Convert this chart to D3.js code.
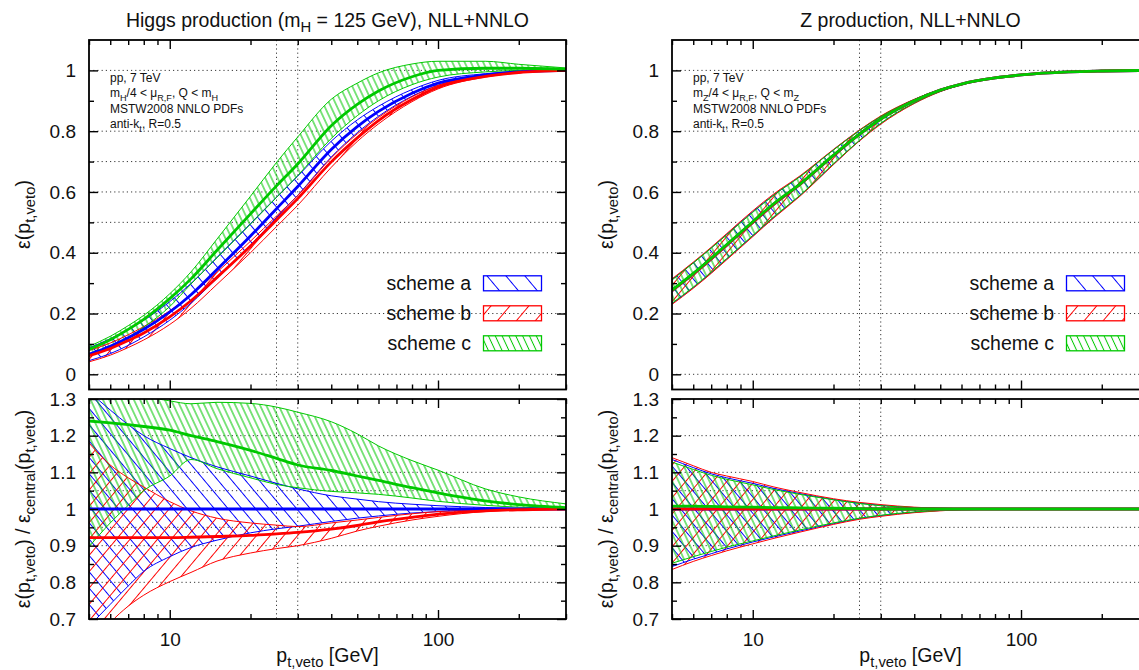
<!DOCTYPE html>
<html>
<head>
<meta charset="utf-8">
<script src="https://cdn.jsdelivr.net/npm/d3@7"></script>
<style>
  body { margin: 0; background: #fff; }
  text { font-family: "Liberation Sans", Arial, Helvetica, sans-serif; fill: #111; }
</style>
</head>
<body>
<svg id="chart" width="1139" height="670"></svg>
<script>
// ---- jet-veto transverse momentum grid [GeV] ----
const ptVeto = [5, 6, 7, 8, 10, 12, 15, 20, 25, 30, 40, 50, 60, 80, 100, 150, 200, 300];

// ---- Higgs production: efficiency ----
const hEffA   = [.066,.092,.120,.148,.205,.262,.345,.455,.545,.618,.740,.815,.865,.925,.958,.985,.995,1.0];
const hEffALo = [.045,.068,.095,.123,.178,.234,.316,.425,.516,.589,.715,.795,.849,.915,.951,.983,.994,1.0];
const hEffAHi = [.087,.117,.148,.178,.239,.299,.385,.496,.583,.652,.767,.837,.882,.937,.967,.989,.997,1.0];
const hEffB   = [.061,.085,.111,.136,.189,.242,.319,.422,.508,.578,.699,.778,.835,.904,.945,.980,.993,1.0];
const hEffBLo = [.041,.063,.088,.113,.164,.217,.296,.400,.486,.556,.681,.766,.824,.897,.939,.978,.992,1.0];
const hEffBHi = [.078,.103,.130,.157,.209,.261,.336,.438,.521,.588,.712,.791,.845,.913,.951,.983,.995,1.0];
const hEffC   = [.082,.114,.148,.181,.249,.314,.408,.528,.620,.692,.818,.888,.932,.979,1.0,1.007,1.007,1.004];
const hEffCLo = [.059,.089,.121,.155,.223,.297,.383,.494,.582,.654,.776,.851,.900,.953,.978,.995,1.0,1.002];
const hEffCHi = [.092,.125,.160,.194,.265,.337,.445,.586,.697,.781,.905,.958,.992,1.021,1.030,1.030,1.020,1.008];

// ---- Higgs production: ratio to central scheme-a efficiency ----
const hRatA   = [1,1,1,1,1,1,1,1,1,1,1,1,1,1,1,1,1,1];
const hRatALo = [.68,.74,.79,.83,.87,.895,.915,.935,.946,.953,.966,.975,.981,.989,.993,.998,.999,1.0];
const hRatAHi = [1.32,1.27,1.23,1.20,1.165,1.14,1.115,1.09,1.07,1.055,1.036,1.027,1.02,1.013,1.009,1.004,1.002,1.0];
const hRatB   = [.922,.922,.922,.922,.922,.923,.925,.928,.932,.936,.945,.955,.965,.977,.986,.995,.998,1.0];
const hRatBLo = [.62,.69,.735,.765,.802,.827,.858,.88,.892,.90,.92,.94,.953,.97,.98,.993,.997,1.0];
const hRatBHi = [1.18,1.12,1.085,1.06,1.02,.995,.975,.962,.956,.952,.962,.97,.977,.987,.993,.998,1.0,1.0];
const hRatC   = [1.24,1.235,1.23,1.225,1.215,1.20,1.184,1.16,1.138,1.12,1.105,1.09,1.078,1.058,1.044,1.022,1.012,1.004];
const hRatCLo = [.897,.962,1.01,1.05,1.09,1.135,1.11,1.085,1.067,1.058,1.048,1.044,1.04,1.03,1.021,1.01,1.005,1.002];
const hRatCHi = [1.40,1.36,1.33,1.31,1.295,1.287,1.291,1.288,1.278,1.264,1.238,1.205,1.172,1.132,1.106,1.055,1.033,1.014];

// ---- Z production: efficiency ----
const zEffA   = [.275,.33,.38,.425,.50,.56,.625,.72,.79,.84,.90,.935,.955,.975,.985,.995,.998,1.0];
const zEffALo = [.232,.285,.334,.379,.455,.517,.588,.691,.769,.825,.892,.931,.953,.974,.985,.995,.998,1.0];
const zEffAHi = [.312,.367,.416,.461,.535,.591,.651,.739,.803,.848,.904,.937,.956,.975,.985,.995,.998,1.0];
const zEffB   = [.275,.33,.38,.425,.50,.56,.625,.72,.79,.84,.90,.935,.955,.975,.985,.995,.998,1.0];
const zEffBLo = [.230,.283,.332,.377,.453,.515,.586,.690,.768,.823,.891,.930,.953,.974,.985,.995,.998,1.0];
const zEffBHi = [.314,.369,.418,.463,.538,.594,.653,.740,.804,.850,.905,.937,.956,.975,.985,.995,.998,1.0];
const zEffC   = [.277,.332,.382,.427,.502,.562,.626,.721,.790,.840,.90,.935,.955,.975,.985,.995,.998,1.0];
const zEffCLo = [.234,.287,.336,.381,.457,.519,.589,.693,.770,.826,.893,.931,.953,.974,.985,.995,.998,1.0];
const zEffCHi = [.310,.366,.415,.459,.533,.590,.650,.738,.802,.848,.904,.937,.956,.975,.985,.995,.998,1.0];

// ---- Z production: ratio to central scheme-a efficiency ----
const zRatA   = [1,1,1,1,1,1,1,1,1,1,1,1,1,1,1,1,1,1];
const zRatALo = [.843,.863,.878,.891,.91,.924,.94,.96,.974,.982,.991,.996,.998,.999,1,1,1,1];
const zRatAHi = [1.135,1.113,1.096,1.085,1.07,1.056,1.042,1.026,1.016,1.01,1.004,1.002,1.001,1,1,1,1,1];
const zRatB   = [1,1,1,1,1,1,1,1,1,1,1,1,1,1,1,1,1,1];
const zRatBLo = [.835,.857,.873,.886,.905,.92,.937,.958,.972,.98,.99,.995,.998,.999,1,1,1,1];
const zRatBHi = [1.14,1.118,1.10,1.09,1.075,1.06,1.045,1.028,1.018,1.012,1.005,1.002,1.001,1,1,1,1,1];
const zRatC   = [1.008,1.008,1.007,1.006,1.005,1.004,1.003,1.002,1.001,1,1,1,1,1,1,1,1,1];
const zRatCLo = [.852,.87,.884,.896,.913,.927,.943,.962,.975,.983,.992,.996,.998,.999,1,1,1,1];
const zRatCHi = [1.128,1.108,1.092,1.081,1.066,1.053,1.04,1.025,1.015,1.009,1.004,1.002,1.001,1,1,1,1,1];

// ---- axes ----
const effDomain   = [-0.05, 1.1];
const effTicks    = [0, 0.2, 0.4, 0.6, 0.8, 1];
const effMinor    = [0.1, 0.3, 0.5, 0.7, 0.9];
const effGrid     = [0, 0.2, 0.4, 0.5, 0.6, 0.7, 0.8, 1];
const ratioDomain = [0.7, 1.3];
const ratioTicks  = [0.7, 0.8, 0.9, 1, 1.1, 1.2, 1.3];
const ratioMinor  = [0.75, 0.85, 0.95, 1.05, 1.15, 1.25];
const ratioGrid   = [0.8, 0.9, 0.95, 1, 1.05, 1.1, 1.2];
const ptDomain    = [5, 300];
const ptMajor     = [10, 100];
const ptMinor     = [5, 6, 7, 8, 9, 20, 30, 40, 50, 60, 70, 80, 90, 200, 300];
const vetoMarks   = [25, 30];
const schemeNames = ["scheme a", "scheme b", "scheme c"];
const schemeColors = ["#0000ff", "#ff0000", "#00c800"];

const FONT = '"Liberation Sans", Arial, Helvetica, sans-serif';
const svg = d3.select("#chart");
const defs = svg.append("defs");
svg.append("rect").attr("width", 1139).attr("height", 670).attr("fill", "#fff");

// hatch fills: a = "\\", b = "//", c = steep "\\"
function hatch(id, color, angle, gap) {
  const p = defs.append("pattern").attr("id", id)
    .attr("patternUnits", "userSpaceOnUse")
    .attr("width", gap).attr("height", gap)
    .attr("patternTransform", `rotate(${angle})`);
  p.append("line").attr("x1", gap / 2).attr("x2", gap / 2).attr("y1", -1).attr("y2", gap + 1)
    .attr("stroke", color).attr("stroke-width", 1);
}
hatch("hA", schemeColors[0], -40, 10.5);
hatch("hB", schemeColors[1], 40, 10.5);
hatch("hC", schemeColors[2], -25, 5.6);
hatch("hAL", schemeColors[0], -40, 14.5);
hatch("hBL", schemeColors[1], 40, 14.5);
hatch("hCL", schemeColors[2], -25, 6.2);
const patterns = ["hA", "hB", "hC"];
const legendPatterns = ["hAL", "hBL", "hCL"];

function richText(g, x, y, size, segs, opts = {}) {
  const t = g.append("text").attr("x", x).attr("y", y)
    .attr("font-size", size + "px").style("white-space", "pre");
  if (opts.anchor) t.attr("text-anchor", opts.anchor);
  if (opts.rotate) t.attr("transform", `rotate(${opts.rotate},${x},${y})`);
  let cur = 0;
  segs.forEach(seg => {
    const [s, kind] = typeof seg === "string" ? [seg, ""] : seg;
    const off = kind === "sub" ? 0.28 * size : 0;
    const ts = t.append("tspan").attr("dy", off - cur).text(s);
    if (kind === "sub") ts.attr("font-size", (0.76 * size) + "px");
    cur = off;
  });
  return t;
}

const fmt = d3.format("~g");
let clipCount = 0;

function drawPanel(x, y, opt) {
  const [x0, x1] = x.range();
  const [yb, yt] = y.range();
  const g = svg.append("g");
  const clipId = "clip" + (clipCount++);
  defs.append("clipPath").attr("id", clipId).append("rect")
    .attr("x", x0).attr("y", yt).attr("width", x1 - x0).attr("height", yb - yt);

  // dotted grid and veto reference lines
  const grid = g.append("g").attr("stroke", "#222").attr("stroke-width", 0.9)
    .attr("stroke-dasharray", "1.2,3").attr("fill", "none");
  grid.selectAll("line.gh").data(opt.grid).join("line").attr("class", "gh")
    .attr("x1", x0).attr("x2", x1).attr("y1", d => y(d)).attr("y2", d => y(d));
  grid.selectAll("line.gv").data(vetoMarks).join("line").attr("class", "gv")
    .attr("x1", d => x(d)).attr("x2", d => x(d)).attr("y1", yt).attr("y2", yb);

  const plot = g.append("g").attr("clip-path", `url(#${clipId})`);
  const rows = opt.bands.map(([lo, hi, mid]) =>
    ptVeto.map((p, i) => ({ p, lo: lo[i], hi: hi[i], mid: mid[i] })));
  const area = d3.area().x(d => x(d.p)).y0(d => y(d.lo)).y1(d => y(d.hi)).curve(d3.curveMonotoneX);
  const line = key => d3.line().x(d => x(d.p)).y(d => y(d[key])).curve(d3.curveMonotoneX);

  rows.forEach((r, k) => plot.append("path").attr("d", area(r)).attr("fill", `url(#${patterns[k]})`));
  rows.forEach((r, k) => {
    ["lo", "hi"].forEach(key => plot.append("path").attr("d", line(key)(r))
      .attr("fill", "none").attr("stroke", schemeColors[k]).attr("stroke-width", 1));
  });
  rows.forEach((r, k) => plot.append("path").attr("d", line("mid")(r))
    .attr("fill", "none").attr("stroke", schemeColors[k]).attr("stroke-width", 2.8));

  // axes with inward ticks on all four sides
  const styleAxis = sel => {
    sel.select(".domain").remove();
    sel.attr("font-size", 19).attr("font-family", FONT);
    sel.selectAll(".tick line").attr("stroke", "#000").attr("stroke-width", 1.4);
    sel.selectAll(".tick text").attr("fill", "#111");
  };
  g.append("g").attr("transform", `translate(${x0},0)`)
    .call(d3.axisLeft(y).tickValues(opt.yTicks).tickSize(-9).tickPadding(13).tickFormat(fmt)).call(styleAxis);
  g.append("g").attr("transform", `translate(${x0},0)`)
    .call(d3.axisLeft(y).tickValues(opt.yMinor).tickSize(-5).tickFormat("")).call(styleAxis);
  g.append("g").attr("transform", `translate(${x1},0)`)
    .call(d3.axisRight(y).tickValues(opt.yTicks).tickSize(-9).tickFormat("")).call(styleAxis);
  g.append("g").attr("transform", `translate(${x1},0)`)
    .call(d3.axisRight(y).tickValues(opt.yMinor).tickSize(-5).tickFormat("")).call(styleAxis);
  g.append("g").attr("transform", `translate(0,${yb})`)
    .call(d3.axisBottom(x).tickValues(ptMajor).tickSize(-9).tickPadding(14)
      .tickFormat(opt.xLabels ? fmt : "")).call(styleAxis);
  g.append("g").attr("transform", `translate(0,${yb})`)
    .call(d3.axisBottom(x).tickValues(ptMinor).tickSize(-5).tickFormat("")).call(styleAxis);
  g.append("g").attr("transform", `translate(0,${yt})`)
    .call(d3.axisTop(x).tickValues(ptMajor).tickSize(-9).tickFormat("")).call(styleAxis);
  g.append("g").attr("transform", `translate(0,${yt})`)
    .call(d3.axisTop(x).tickValues(ptMinor).tickSize(-5).tickFormat("")).call(styleAxis);

  g.append("rect").attr("x", x0).attr("y", yt).attr("width", x1 - x0).attr("height", yb - yt)
    .attr("fill", "none").attr("stroke", "#000").attr("stroke-width", 1.8);
  return g;
}

const columns = [
  {
    x0: 89, x1: 566, boson: "H",
    title: ["Higgs production (m", ["H", "sub"], " = 125 GeV), NLL+NNLO"],
    eff: [[hEffALo, hEffAHi, hEffA], [hEffBLo, hEffBHi, hEffB], [hEffCLo, hEffCHi, hEffC]],
    ratio: [[hRatALo, hRatAHi, hRatA], [hRatBLo, hRatBHi, hRatB], [hRatCLo, hRatCHi, hRatC]]
  },
  {
    x0: 672, x1: 1149, boson: "Z",
    title: ["Z production, NLL+NNLO"],
    eff: [[zEffALo, zEffAHi, zEffA], [zEffBLo, zEffBHi, zEffB], [zEffCLo, zEffCHi, zEffC]],
    ratio: [[zRatALo, zRatAHi, zRatA], [zRatBLo, zRatBHi, zRatB], [zRatCLo, zRatCHi, zRatC]]
  }
];

columns.forEach(col => {
  const x = d3.scaleLog().domain(ptDomain).range([col.x0, col.x1]);
  const yEff = d3.scaleLinear().domain(effDomain).range([389.5, 40]);
  const yRat = d3.scaleLinear().domain(ratioDomain).range([619, 399]);
  const cx = (col.x0 + col.x1) / 2;
  const off = col.x0 - 89;

  drawPanel(x, yEff, { bands: col.eff, grid: effGrid, yTicks: effTicks, yMinor: effMinor, xLabels: false });
  drawPanel(x, yRat, { bands: col.ratio, grid: ratioGrid, yTicks: ratioTicks, yMinor: ratioMinor, xLabels: true });

  const txt = svg.append("g");
  richText(txt, cx, 27, 19.5, col.title, { anchor: "middle" });
  richText(txt, 30 + off, 214.5, 19.5, ["ε(p", ["t,veto", "sub"], ")"], { anchor: "middle", rotate: -90 });
  richText(txt, 30 + off, 509, 19.5,
    ["ε(p", ["t,veto", "sub"], ") / ε", ["central", "sub"], "(p", ["t,veto", "sub"], ")"],
    { anchor: "middle", rotate: -90 });
  richText(txt, cx, 662, 19.5, ["p", ["t,veto", "sub"], " [GeV]"], { anchor: "middle" });

  // process / setup notes
  const m = col.boson;
  const notes = [
    ["pp, 7 TeV"],
    ["m", [m, "sub"], "/4 < μ", ["R,F", "sub"], ", Q < m", [m, "sub"]],
    ["MSTW2008 NNLO PDFs"],
    ["anti-k", ["t", "sub"], ", R=0.5"]
  ];
  notes.forEach((segs, i) => richText(txt, 110 + off, 82 + i * 15.4, 12, segs));

  // legend
  schemeNames.forEach((name, k) => {
    const yc = 283.3 + k * 30;
    txt.append("text").attr("x", 471 + off).attr("y", yc + 6.8).attr("text-anchor", "end")
      .attr("font-size", "19.5px").text(name);
    txt.append("rect").attr("x", 483.5 + off).attr("y", yc - 7.5).attr("width", 58).attr("height", 15)
      .attr("fill", `url(#${legendPatterns[k]})`).attr("stroke", schemeColors[k]).attr("stroke-width", 1.3);
  });
});
</script>
</body>
</html>
